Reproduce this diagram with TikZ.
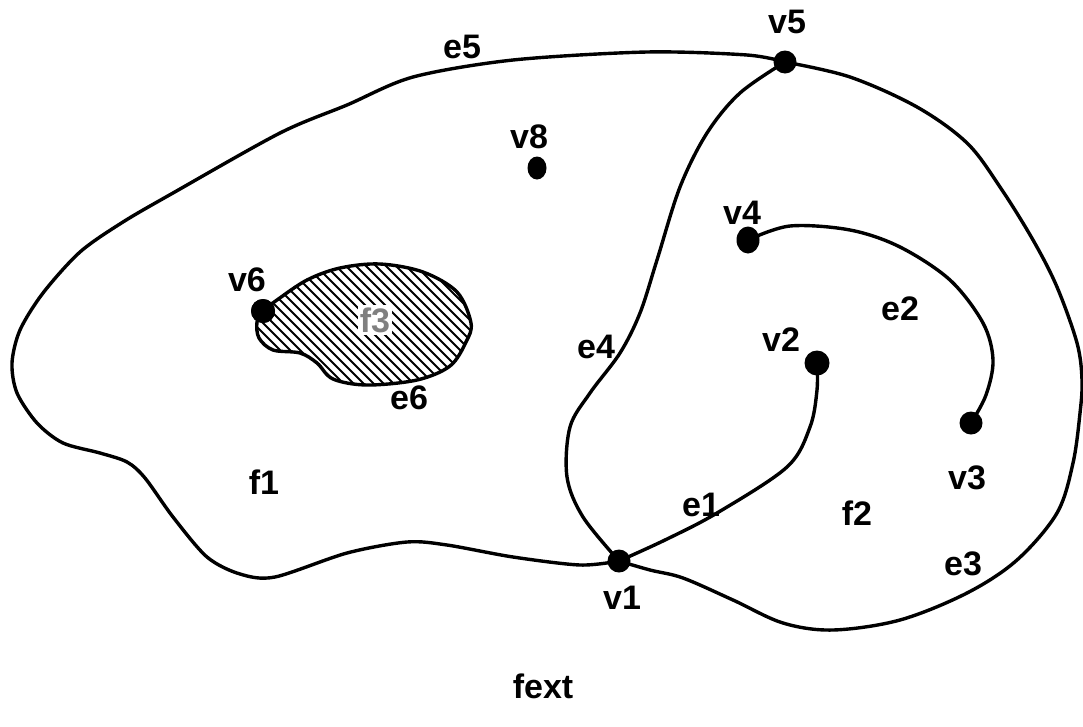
\documentclass[tikz,border=0pt]{standalone}
\usepackage{fontspec}
\setmainfont{Liberation Sans}
\usetikzlibrary{shapes.geometric}
\begin{document}
\begin{tikzpicture}[x=1pt,y=-1pt,
  edge/.style={line width=3.4pt, line join=round, line cap=round},
  vtx/.style={circle, fill=black, inner sep=0pt, minimum size=23pt},
  vtxe/.style={ellipse, fill=black, inner sep=0pt, minimum width=19pt, minimum height=23pt},
  lbl/.style={font=\bfseries\fontsize{34}{36}\selectfont, inner sep=0pt}]
\useasboundingbox (0,0) rectangle (1083,726);
% vertices
\node[vtx] (v1) at (619,561) {};
\node[vtx, minimum size=25pt] (v2) at (817,363) {};
\node[vtx] (v3) at (971,423) {};
\node[vtxe, minimum width=23pt, minimum height=27pt] (v4) at (748,240) {};
\node[vtx] (v5) at (785,62) {};
\node[vtx, minimum size=24pt] (v6) at (263,311) {};
\node[vtxe] (v8) at (537,168) {};
% e5 : outer boundary from v5 round the left to v1
\draw[edge] plot[smooth, tension=0.5] coordinates {
  (v5) (747,55) (647,52) (513,60) (413,77) (347,105) (280,133) (173,193)
  (123,222) (80,252) (43,293) (20,330) (12,363) (17,393) (37,423) (63,443)
  (100,453) (127,462) (145,478) (173,517) (207,557) (240,574) (275,577)
  (347,553) (407,542) (447,545) (513,557) (580,565) (v1)};
% e3 : from v1 round the right to v5
\draw[edge] plot[smooth, tension=0.55] coordinates {
  (v1) (650,570) (683,578) (733,600) (783,623) (833,630) (900,620)
  (967,593) (1017,560) (1057,513) (1073,463) (1080,413) (1082,380)
  (1077,343) (1057,287) (1033,240) (1000,187) (967,143) (917,107)
  (850,77) (v5)};
% e4 : v5 to v1
\draw[edge] plot[smooth, tension=0.55] coordinates {
  (v5) (740,93) (707,133) (680,187) (657,260) (640,313) (620,353)
  (590,393) (570,427) (567,477) (583,517) (v1)};
% e1 : v1 to v2
\draw[edge] plot[smooth, tension=0.55] coordinates {
  (v1) (665,540) (717,513) (787,467) (810,427) (817,390) (v2)};
% e2 : v4 to v3
\draw[edge] plot[smooth, tension=0.55] coordinates {
  (v4) (790,226) (850,230) (900,247) (950,280) (983,323) (993,360)
  (986,395) (v3)};
% e6 : loop at v6 bounding the hatched face f3
\def\blobpath{plot[smooth cycle, tension=0.55] coordinates {
  (263,311) (277,300) (307,280) (340,268) (380,264) (423,272) (457,292)
  (471,323) (466,342) (450,366) (417,380) (367,385) (333,379) (317,363)
  (300,353) (273,350) (259,338) (257,322)}}
\begin{scope}
  \clip \blobpath;
  \foreach \i in {0,...,45} {
    \draw[line width=2pt] (80+10*\i,240) -- (80+10*\i+160,400);
  }
\end{scope}
\draw[edge] \blobpath;
\node[vtx, minimum size=24pt] at (v6) {};
% labels
\node[lbl] (lv5) at (787,22) {v5};
\node[lbl] (le5) at (462,47) {e5};
\node[lbl] (lv8) at (529,137) {v8};
\node[lbl] (lv4) at (742,213) {v4};
\node[lbl] (lv6) at (247,280) {v6};
\node[lbl, fill=white, text=gray, inner sep=2pt] (lf3) at (375,320) {f3};
\node[lbl] (le2) at (900,309) {e2};
\node[lbl] (lv2) at (781,340) {v2};
\node[lbl] (le4) at (596,347) {e4};
\node[lbl] (le6) at (409,398) {e6};
\node[lbl] (lf1) at (264,482) {f1};
\node[lbl] (lv3) at (967,478) {v3};
\node[lbl] (le1) at (701,505) {e1};
\node[lbl] (lf2) at (857,513) {f2};
\node[lbl] (le3) at (963,564) {e3};
\node[lbl] (lv1) at (622,598) {v1};
\node[lbl] (lfext) at (543,686) {fext};
\end{tikzpicture}
\end{document}
